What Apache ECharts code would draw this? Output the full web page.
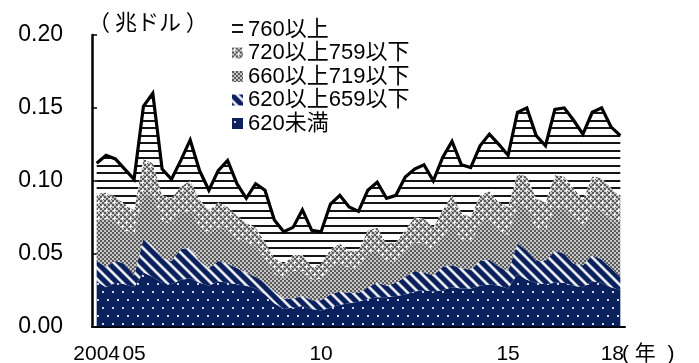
<!DOCTYPE html>
<html>
<head>
<meta charset="utf-8">
<script src="https://cdn.jsdelivr.net/npm/echarts/dist/echarts.min.js"></script>
<style>
  html, body { margin: 0; padding: 0; background: #fff; }
  #chart { width: 699px; height: 363px; }
</style>
</head>
<body>
<div id="chart"></div>
<script>
// Quarterly categories, 2004Q1 - 2018Q1
const quarters = [
  '2004Q1','2004Q2','2004Q3','2004Q4','2005Q1','2005Q2','2005Q3','2005Q4',
  '2006Q1','2006Q2','2006Q3','2006Q4','2007Q1','2007Q2','2007Q3','2007Q4',
  '2008Q1','2008Q2','2008Q3','2008Q4','2009Q1','2009Q2','2009Q3','2009Q4',
  '2010Q1','2010Q2','2010Q3','2010Q4','2011Q1','2011Q2','2011Q3','2011Q4',
  '2012Q1','2012Q2','2012Q3','2012Q4','2013Q1','2013Q2','2013Q3','2013Q4',
  '2014Q1','2014Q2','2014Q3','2014Q4','2015Q1','2015Q2','2015Q3','2015Q4',
  '2016Q1','2016Q2','2016Q3','2016Q4','2017Q1','2017Q2','2017Q3','2017Q4',
  '2018Q1'
];

// Labels shown under the category axis
const xTickLabels = { '2004Q1': '2004', '2005Q1': '05', '2010Q1': '10', '2015Q1': '15', '2018Q1': '18' };

// Series names (score bands), bottom of the stack first
const bandNames = ['620未満', '620以上659以下', '660以上719以下', '720以上759以下', '760以上'];

// Values in trillion dollars per quarter
const under620 = [
  0.031,0.027,0.030,0.029,0.027,0.037,0.034,0.030,0.029,0.032,
  0.033,0.030,0.028,0.031,0.030,0.029,0.028,0.026,0.022,0.016,
  0.012,0.013,0.014,0.012,0.011,0.013,0.015,0.016,0.017,0.019,
  0.020,0.020,0.021,0.022,0.024,0.025,0.024,0.025,0.027,0.026,
  0.026,0.028,0.029,0.028,0.026,0.036,0.032,0.030,0.029,0.030,
  0.030,0.028,0.027,0.031,0.030,0.027,0.025
];
const from620to659 = [
  0.014,0.014,0.015,0.014,0.008,0.023,0.021,0.017,0.016,0.021,
  0.021,0.015,0.012,0.014,0.013,0.011,0.009,0.008,0.008,0.008,
  0.007,0.006,0.007,0.006,0.007,0.009,0.009,0.007,0.006,0.008,
  0.010,0.008,0.009,0.012,0.014,0.012,0.011,0.016,0.015,0.014,
  0.013,0.017,0.017,0.013,0.012,0.021,0.020,0.015,0.016,0.022,
  0.020,0.015,0.015,0.018,0.016,0.013,0.009
];
const from660to719 = [
  0.028,0.033,0.026,0.023,0.028,0.031,0.035,0.026,0.025,0.024,
  0.026,0.024,0.024,0.023,0.023,0.020,0.021,0.021,0.017,0.012,
  0.014,0.019,0.017,0.014,0.015,0.019,0.020,0.017,0.017,0.024,
  0.022,0.016,0.015,0.017,0.020,0.020,0.017,0.021,0.028,0.020,
  0.019,0.025,0.027,0.025,0.025,0.026,0.029,0.023,0.021,0.030,
  0.031,0.031,0.025,0.032,0.034,0.034,0.035
];
const from720to759 = [
  0.018,0.018,0.018,0.018,0.017,0.024,0.022,0.017,0.018,0.019,
  0.020,0.018,0.016,0.017,0.016,0.016,0.013,0.013,0.011,0.011,
  0.010,0.011,0.011,0.009,0.010,0.012,0.013,0.012,0.012,0.015,
  0.016,0.013,0.013,0.015,0.017,0.017,0.016,0.018,0.020,0.018,
  0.017,0.020,0.020,0.019,0.019,0.022,0.022,0.020,0.019,0.022,
  0.022,0.021,0.020,0.022,0.022,0.021,0.020
];
const over760 = [
  0.021,0.0255,0.026,0.024,0.021,0.036,0.048,0.018,0.013,0.018,
  0.028,0.020,0.0135,0.022,0.032,0.022,0.017,0.030,0.0355,0.026,
  0.022,0.019,0.031,0.025,0.022,0.031,0.033,0.030,0.027,0.0275,
  0.031,0.031,0.032,0.0366,0.033,0.037,0.032,0.036,0.037,0.033,
  0.034,0.034,0.039,0.040,0.0355,0.042,0.047,0.043,0.039,0.045,
  0.047,0.0465,0.045,0.044,0.048,0.042,0.042
];

// ---- fill patterns (small canvases repeated over each area) ----
function tile(w, h, paint) {
  const c = document.createElement('canvas');
  c.width = w; c.height = h;
  paint(c.getContext('2d'), w, h);
  return c;
}
const NAVY = [11, 33, 94];
const navyCss = 'rgb(' + NAVY.join(',') + ')';

// navy with small light dots
const dotsTile = tile(10, 16, (g, w, h) => {
  g.fillStyle = navyCss; g.fillRect(0, 0, w, h);
  g.fillStyle = '#cdd5e6';
  g.fillRect(2, 3, 2, 2);
  g.fillRect(7, 11, 2, 2);
});

// navy with soft white diagonal stripes
const stripeTile = tile(11, 11, (g, w, h) => {
  const img = g.createImageData(w, h);
  for (let y = 0; y < h; y++) {
    for (let x = 0; x < w; x++) {
      const d = ((x - y) % w + w) % w;
      const t = Math.max(0, Math.min(1, 1.3 - Math.abs(d - 5) / 2.2));
      const k = (y * w + x) * 4;
      img.data[k]     = NAVY[0] + (255 - NAVY[0]) * t;
      img.data[k + 1] = NAVY[1] + (255 - NAVY[1]) * t;
      img.data[k + 2] = NAVY[2] + (255 - NAVY[2]) * t;
      img.data[k + 3] = 255;
    }
  }
  g.putImageData(img, 0, 0);
});

// fine gray checker
function paintChecker(g, w, h) {
  g.fillStyle = '#c6c6c6'; g.fillRect(0, 0, w, h);
  g.fillStyle = '#5a5a5a';
  for (let y = 0; y < h; y += 2) {
    for (let x = 0; x < w; x += 2) {
      if (((x + y) / 2) % 2 === 0) g.fillRect(x, y, 2, 2);
    }
  }
}
const checkerTile = tile(4, 4, paintChecker);

// gray checker with white crosses
const crossTile = tile(8, 8, (g, w, h) => {
  paintChecker(g, w, h);
  g.fillStyle = '#ffffff';
  g.fillRect(1, 2, 3, 1); g.fillRect(2, 1, 1, 3);
  g.fillRect(5, 6, 3, 1); g.fillRect(6, 5, 1, 3);
});

// white with horizontal black rules
const rulesTile = tile(4, 15, (g, w, h) => {
  g.fillStyle = '#ffffff'; g.fillRect(0, 0, w, h);
  g.fillStyle = '#151515';
  g.fillRect(0, 0, w, 2);
  g.fillRect(0, 7, w, 2);
});

const pattern = (c) => ({ image: c, repeat: 'repeat' });
const fills = [dotsTile, stripeTile, checkerTile, crossTile, rulesTile].map(pattern);
const bandValues = [under620, from620to659, from660to719, from720to759, over760];

const FONT = "'Liberation Sans', 'Noto Sans CJK JP', sans-serif";

const series = bandNames.map((name, i) => {
  const top = i === bandNames.length - 1;
  return {
    name: name,
    type: 'line',
    stack: 'amount',
    data: bandValues[i],
    symbol: 'none',
    smooth: false,
    silent: true,
    emphasis: { disabled: true },
    itemStyle: { color: fills[i] },
    areaStyle: { color: fills[i], opacity: 1 },
    lineStyle: top
      ? { color: '#000', width: 3.2, join: 'miter', miterLimit: 6 }
      : { width: 0, color: 'rgba(0,0,0,0)' },
    z: 2 + i
  };
});

const chart = echarts.init(document.getElementById('chart'), null, { renderer: 'canvas' });
chart.setOption({
  animation: false,
  backgroundColor: '#ffffff',
  grid: { left: 92, right: 74, top: 35, bottom: 36.5, outerBoundsMode: 'none', containLabel: false },
  legend: {
    orient: 'vertical',
    left: 232,
    top: 18,
    padding: 0,
    itemWidth: 11,
    itemHeight: 11,
    itemGap: 0.5,
    icon: 'rect',
    selectedMode: false,
    itemStyle: { borderWidth: 0 },
    textStyle: { fontSize: 22, lineHeight: 23, color: '#000', fontFamily: FONT },
    data: bandNames.slice().reverse()
  },
  xAxis: {
    type: 'category',
    data: quarters,
    boundaryGap: true,
    axisLine: { show: true, lineStyle: { color: '#000', width: 2 } },
    axisTick: { show: false },
    splitLine: { show: false },
    axisLabel: {
      interval: (idx, val) => Object.prototype.hasOwnProperty.call(xTickLabels, val),
      formatter: (val) => val === '2018Q1' ? '{last|' + xTickLabels[val] + '}' : (xTickLabels[val] || ''),
      color: '#000',
      fontSize: 21,
      fontFamily: FONT,
      margin: 17,
      rich: {
        last: { fontSize: 21, fontFamily: FONT, color: '#000', padding: [0, 16, 0, 0] }
      }
    }
  },
  yAxis: {
    type: 'value',
    min: 0,
    max: 0.2,
    interval: 0.05,
    axisLine: { show: true, lineStyle: { color: '#000', width: 2.5 } },
    axisTick: { show: true, inside: true, length: 5, lineStyle: { color: '#000', width: 1.5 } },
    splitLine: { show: false },
    axisLabel: {
      formatter: (v) => v.toFixed(2),
      color: '#000',
      fontSize: 23,
      fontFamily: FONT,
      margin: 29
    }
  },
  graphic: [
    {
      type: 'text', left: 88, top: 11,
      style: { text: '（ 兆ドル ）', fontSize: 22, fontFamily: "'Noto Sans CJK JP', sans-serif", fill: '#000' }
    },
    {
      type: 'text', left: 622, top: 344,
      style: { text: '( 年  )', fontSize: 21, fontFamily: FONT, fill: '#000' }
    }
  ],
  series: series
});
</script>
</body>
</html>
